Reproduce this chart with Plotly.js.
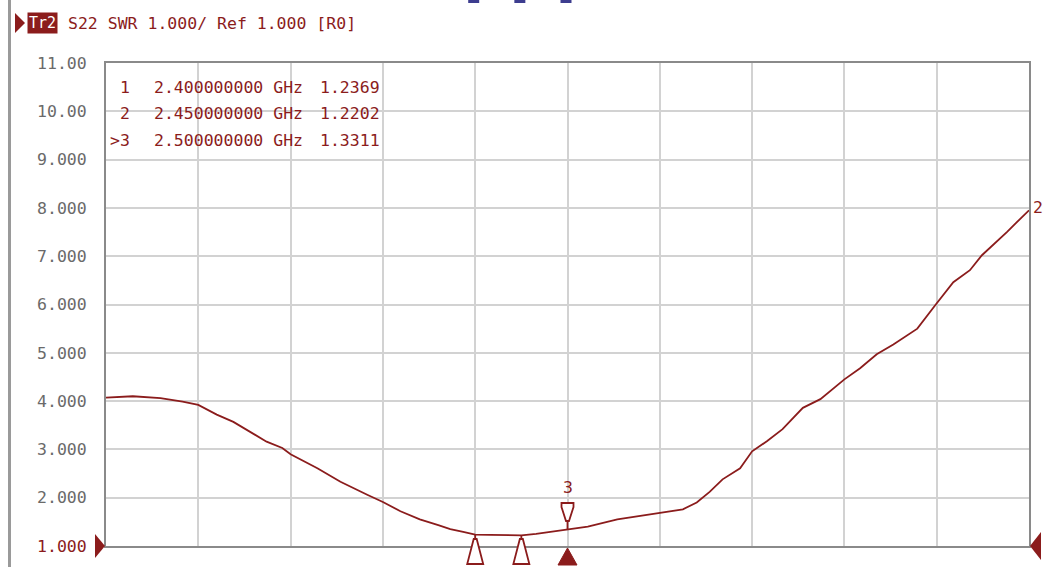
<!DOCTYPE html>
<html>
<head>
<meta charset="utf-8">
<script src="https://cdn.plot.ly/plotly-3.0.1.min.js"></script>
<style>
html,body{margin:0;padding:0;background:#ffffff;}
#chart{width:1049px;height:567px;}
</style>
</head>
<body>
<div id="chart"></div>
<script>
// ---------------- data ----------------
const freqGHz = [2.000, 2.029, 2.059, 2.083, 2.100, 2.120, 2.138, 2.156, 2.174, 2.191,
                 2.200, 2.229, 2.254, 2.283, 2.300, 2.319, 2.340, 2.360, 2.373, 2.387,
                 2.400, 2.416, 2.432, 2.450, 2.466, 2.481, 2.500, 2.522, 2.554, 2.579,
                 2.600, 2.625, 2.640, 2.654, 2.668, 2.687, 2.700, 2.716, 2.733, 2.755,
                 2.774, 2.800, 2.817, 2.835, 2.853, 2.879, 2.899, 2.918, 2.936, 2.949,
                 2.976, 3.000];
const swr = [4.07, 4.10, 4.06, 3.99, 3.92, 3.72, 3.57, 3.37, 3.16, 3.03,
             2.90, 2.61, 2.33, 2.06, 1.91, 1.72, 1.55, 1.43, 1.35, 1.29,
             1.2369, 1.23, 1.22, 1.2202, 1.25, 1.29, 1.3311, 1.40, 1.55, 1.62,
             1.68, 1.76, 1.90, 2.12, 2.38, 2.61, 2.96, 3.17, 3.42, 3.86,
             4.04, 4.45, 4.68, 4.97, 5.17, 5.50, 6.00, 6.46, 6.71, 7.02,
             7.50, 7.95];

const markerNames = ['1', '2', '>3'];
const markerLabels = ['1', '2', '3'];
const markerFreqGHz = [2.40, 2.45, 2.50];
const markerFreqText = ['2.400000000 GHz', '2.450000000 GHz', '2.500000000 GHz'];
const markerValueText = ['1.2369', '1.2202', '1.3311'];
const markerSWR = [1.2369, 1.2202, 1.3311];
const activeMarker = 2;

const yTickVals = [1, 2, 3, 4, 5, 6, 7, 8, 9, 10, 11];
const yTickText = ['1.000', '2.000', '3.000', '4.000', '5.000', '6.000', '7.000', '8.000', '9.000', '10.00', '11.00'];
const xRange = [2.0, 3.0];
const yRange = [1, 11];

const traceTag = 'Tr2';
const titleText = 'S22 SWR 1.000/ Ref 1.000 [R0]';
const traceEndLabel = '2';

// ---------------- style / geometry ----------------
const W = 1049, H = 567;
const L = 106, R = 1029, T = 63, B = 546;
const PW = R - L, PH = B - T;
const xPaper = px => (px - L) / PW;
const yPaper = py => (B - py) / PH;

const RED = '#8b1c1c';
const FONT = "'DejaVu Sans Mono', monospace";
const FS = 16.5;

const tickText = yTickText.map((t, i) => i === 0 ? '<span style="color:' + RED + '">' + t + '</span>' : t);

const traces = [{
  x: freqGHz, y: swr, type: 'scatter', mode: 'lines',
  line: {color: RED, width: 1.8}, hoverinfo: 'skip', showlegend: false
}];

const shapes = [];
const annotations = [];

// outer frame line at left
shapes.push({type: 'line', xref: 'paper', yref: 'paper', x0: xPaper(9.5), x1: xPaper(9.5), y0: yPaper(0), y1: yPaper(567),
  line: {color: '#9a9a9a', width: 3}});

// markers
markerFreqGHz.forEach((f, i) => {
  const v = markerSWR[i];
  if (i !== activeMarker) {
    shapes.push({type: 'line', xref: 'x', yref: 'y', x0: f, x1: f, y0: v, y1: yRange[0],
      line: {color: RED, width: 1.8}, layer: 'above'});
    shapes.push({type: 'path', xref: 'x', yref: 'paper', xsizemode: 'pixel', ysizemode: 'pixel',
      xanchor: f, yanchor: 0, path: 'M -1.5,7 L 1.5,7 L 8,-18 L -8,-18 Z',
      fillcolor: '#ffffff', line: {color: RED, width: 1.8}, layer: 'above'});
  } else {
    shapes.push({type: 'path', xref: 'x', yref: 'y', xsizemode: 'pixel', ysizemode: 'pixel',
      xanchor: f, yanchor: v, path: 'M 0,0 L 0,9 M -6,27 L 6,27 L 6,23 L 1.5,9 L -1.5,9 L -6,23 Z',
      fillcolor: '#ffffff', line: {color: RED, width: 1.8}, layer: 'above'});
    shapes.push({type: 'path', xref: 'x', yref: 'paper', xsizemode: 'pixel', ysizemode: 'pixel',
      xanchor: f, yanchor: 0, path: 'M 0,-2 L 9.5,-19 L -9.5,-19 Z',
      fillcolor: RED, line: {color: RED, width: 1}, layer: 'above'});
    annotations.push({xref: 'x', yref: 'y', x: f, y: v, yshift: 43, text: markerLabels[i], showarrow: false,
      font: {family: FONT, size: FS, color: RED}, xanchor: 'center', yanchor: 'middle'});
  }
  // small blue flags at the very top
  shapes.push({type: 'path', xref: 'x', yref: 'paper', xsizemode: 'pixel', ysizemode: 'pixel',
    xanchor: f, yanchor: 1, path: 'M -7,60 L 4,60 L 4,66 L -7,66 Z',
    fillcolor: '#3d3d8f', line: {width: 0}});
});

// reference level triangles
shapes.push({type: 'path', xref: 'paper', yref: 'paper', xsizemode: 'pixel', ysizemode: 'pixel',
  xanchor: 0, yanchor: 0, path: 'M -1,0 L -11,12 L -11,-12 Z', fillcolor: RED, line: {width: 0}});
shapes.push({type: 'path', xref: 'paper', yref: 'paper', xsizemode: 'pixel', ysizemode: 'pixel',
  xanchor: 1, yanchor: 0, path: 'M 1,0 L 12,14 L 12,-14 Z', fillcolor: RED, line: {width: 0}});

// title area
shapes.push({type: 'path', xref: 'paper', yref: 'paper', xsizemode: 'pixel', ysizemode: 'pixel',
  xanchor: xPaper(15), yanchor: yPaper(23), path: 'M 0,10 L 10,0 L 0,-10 Z', fillcolor: RED, line: {width: 0}});
annotations.push({xref: 'paper', yref: 'paper', x: xPaper(27), y: yPaper(23), xanchor: 'left', yanchor: 'middle',
  text: traceTag, showarrow: false, bgcolor: RED, borderpad: 1,
  font: {family: FONT, size: 15, color: '#ffffff'}});
annotations.push({xref: 'paper', yref: 'paper', x: xPaper(66), y: yPaper(24), xanchor: 'left', yanchor: 'middle',
  text: titleText, showarrow: false, font: {family: FONT, size: FS, color: RED}});

// marker table
const rowY = [87, 113, 140];
markerNames.forEach((n, i) => {
  annotations.push({xref: 'paper', yref: 'paper', x: xPaper(132), y: yPaper(rowY[i]), xanchor: 'right', yanchor: 'middle',
    text: n, showarrow: false, font: {family: FONT, size: FS, color: RED}});
  annotations.push({xref: 'paper', yref: 'paper', x: xPaper(152), y: yPaper(rowY[i]), xanchor: 'left', yanchor: 'middle',
    text: markerFreqText[i], showarrow: false, font: {family: FONT, size: FS, color: RED}});
  annotations.push({xref: 'paper', yref: 'paper', x: xPaper(318), y: yPaper(rowY[i]), xanchor: 'left', yanchor: 'middle',
    text: markerValueText[i], showarrow: false, font: {family: FONT, size: FS, color: RED}});
});

// trace end label
annotations.push({xref: 'x', yref: 'y', x: freqGHz[freqGHz.length - 1], y: swr[swr.length - 1],
  xanchor: 'left', yanchor: 'middle', xshift: 2, yshift: 3, text: traceEndLabel, showarrow: false,
  font: {family: FONT, size: FS, color: RED}});

const layout = {
  width: W, height: H,
  margin: {l: L, r: W - R, t: T, b: H - B, pad: 0},
  paper_bgcolor: '#ffffff', plot_bgcolor: '#ffffff',
  showlegend: false,
  xaxis: {
    range: xRange, tick0: 2.0, dtick: 0.1, showticklabels: false, ticks: '',
    showgrid: true, gridcolor: '#d2d2d2', gridwidth: 2, zeroline: false,
    showline: true, mirror: true, linecolor: '#8a8a8a', linewidth: 2, fixedrange: true
  },
  yaxis: {
    range: yRange, tickmode: 'array', tickvals: yTickVals, ticktext: tickText,
    ticks: 'outside', ticklen: 14, tickcolor: 'rgba(0,0,0,0)',
    tickfont: {family: FONT, size: FS, color: '#6a6a6a'},
    showgrid: true, gridcolor: '#d2d2d2', gridwidth: 2, zeroline: false,
    showline: true, mirror: true, linecolor: '#8a8a8a', linewidth: 2, fixedrange: true
  },
  shapes: shapes,
  annotations: annotations
};

Plotly.newPlot('chart', traces, layout, {staticPlot: true, displayModeBar: false});
</script>
</body>
</html>
